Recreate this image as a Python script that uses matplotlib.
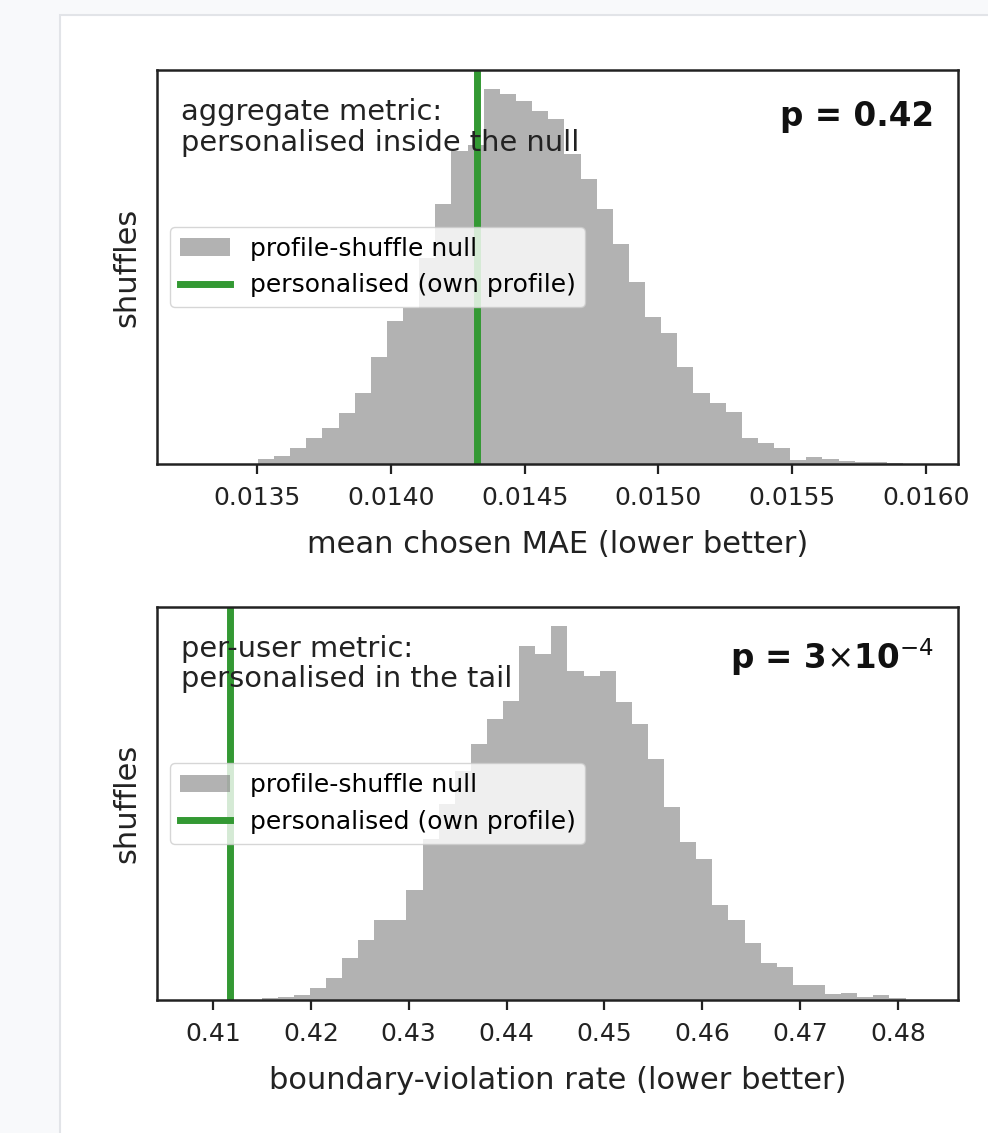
import numpy as np
import matplotlib
matplotlib.use("Agg")
import matplotlib.pyplot as plt
from matplotlib.patches import Rectangle

# ---- data (10k profile shuffles, 40 bins each) ----
mae_range = (0.013503, 0.015915)
mae_counts = [9, 15, 30, 48, 67, 94, 131, 198, 263, 287,
              379, 479, 577, 588, 692, 683, 670, 651, 636, 572,
              525, 470, 405, 335, 272, 242, 178, 131, 113, 96,
              48, 39, 30, 7, 13, 9, 6, 4, 3, 2]
mae_personalised = 0.014323
mae_xlim = (0.013126, 0.016120)
mae_ticks = [0.0135, 0.0140, 0.0145, 0.0150, 0.0155, 0.0160]
mae_tick_labels = ["0.0135", "0.0140", "0.0145", "0.0150", "0.0155", "0.0160"]

bvr_range = (0.414966, 0.480766)
bvr_counts = [3, 5, 9, 22, 40, 76, 108, 144, 144, 198,
              288, 351, 410, 459, 504, 536, 634, 621, 671, 589,
              581, 589, 535, 495, 432, 346, 284, 252, 171, 144,
              103, 67, 59, 27, 27, 11, 13, 5, 9, 4]
bvr_personalised = 0.41174
bvr_xlim = (0.40428, 0.48613)
bvr_ticks = [0.41, 0.42, 0.43, 0.44, 0.45, 0.46, 0.47, 0.48]
bvr_tick_labels = ["0.41", "0.42", "0.43", "0.44", "0.45", "0.46", "0.47", "0.48"]

panels = [
    dict(rng=mae_range, counts=mae_counts, own=mae_personalised, xlim=mae_xlim,
         ticks=mae_ticks, ticklabels=mae_tick_labels,
         note="aggregate metric:\npersonalised inside the null",
         pval="p = 0.42", xlabel="mean chosen MAE (lower better)"),
    dict(rng=bvr_range, counts=bvr_counts, own=bvr_personalised, xlim=bvr_xlim,
         ticks=bvr_ticks, ticklabels=bvr_tick_labels,
         note="per-user metric:\npersonalised in the tail",
         pval=r"p = 3$\times$10$^{-4}$", xlabel="boundary-violation rate (lower better)"),
]

W, H = 988, 1133
fig = plt.figure(figsize=(W / 100, H / 100), dpi=100, facecolor="#f8f9fb")

# screenshot frame: white card with a faint border, behind the axes
card = Rectangle((60 / W, -0.01), 1.0, (H - 15) / H + 0.01,
                 transform=fig.transFigure, facecolor="white",
                 edgecolor="#e2e4e8", linewidth=1.5, zorder=-5)
fig.add_artist(card)

axes_px = [(157, 70, 958, 464), (157, 607, 958, 1000)]

for (x0, y0, x1, y1), p in zip(axes_px, panels):
    ax = fig.add_axes([x0 / W, (H - y1) / H, (x1 - x0) / W, (y1 - y0) / H])
    ax.set_zorder(1)
    edges = np.linspace(p["rng"][0], p["rng"][1], len(p["counts"]) + 1)
    ax.hist(edges[:-1], bins=edges, weights=p["counts"], color="gray", alpha=0.6,
            label="profile-shuffle null")
    ax.axvline(p["own"], color="#339933", lw=5, label="personalised (own profile)")
    ax.set_xlim(*p["xlim"])
    ax.set_ylim(0, max(p["counts"]) * 1.05)
    ax.set_yticks([])
    ax.set_xticks(p["ticks"])
    ax.set_xticklabels(p["ticklabels"])
    ax.tick_params(axis="x", labelsize=18, length=7, width=1.6, pad=9, colors="#222222")
    for s in ax.spines.values():
        s.set_linewidth(1.8)
        s.set_color("#222222")
    ax.set_ylabel("shuffles", fontsize=22, labelpad=11, color="#222222")
    ax.set_xlabel(p["xlabel"], fontsize=22, labelpad=14, color="#222222")
    ax.text(0.03, 0.928, p["note"], transform=ax.transAxes, ha="left", va="top",
            fontsize=20.8, color="#222222", linespacing=1.1)
    ax.text(0.97, 0.925, p["pval"], transform=ax.transAxes, ha="right", va="top",
            fontsize=23.5, fontweight="bold", color="#111111")
    ax.legend(loc="center left", fontsize=18, handlelength=2.0, borderpad=0.4)

fig.savefig("out.png", dpi=100, facecolor=fig.get_facecolor())
